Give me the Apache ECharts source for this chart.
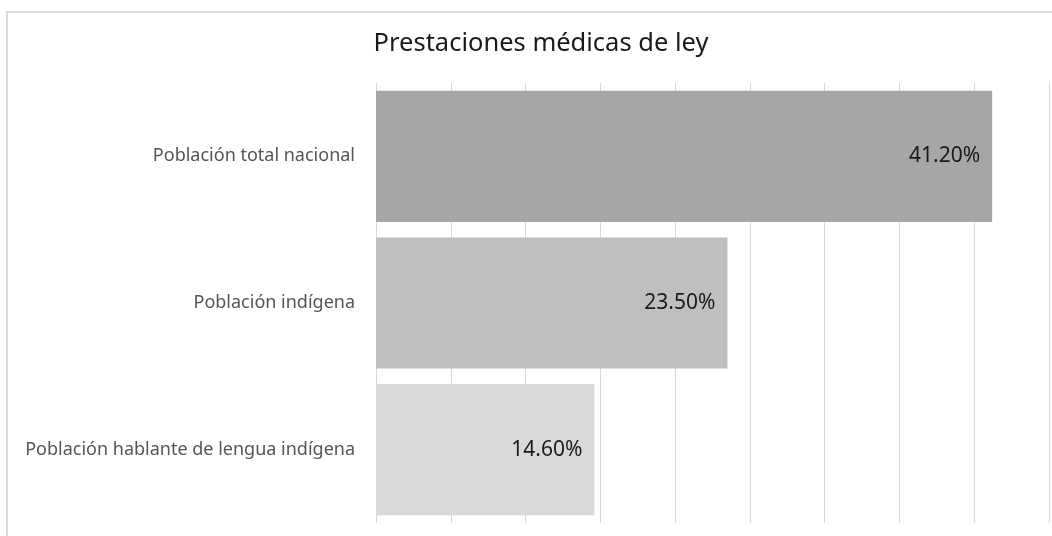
<!DOCTYPE html>
<html>
<head>
<meta charset="utf-8">
<script src="https://cdn.jsdelivr.net/npm/echarts@6/dist/echarts.min.js"></script>
<style>
  html, body { margin: 0; padding: 0; background: #fff; }
  #grafico { width: 1052px; height: 536px; }
</style>
</head>
<body>
<div id="grafico"></div>
<script>
// Datos
const categorias = ['Población hablante de lengua indígena', 'Población indígena', 'Población total nacional'];
const valores = [14.6, 23.5, 41.2];
const colores = ['#d9d9d9', '#bfbfbf', '#a6a6a6'];

function crearGrafico(cats, vals) {
    return {
        animation: false,
        textStyle: { fontFamily: 'Noto Sans' },
        title: {
            text: 'Prestaciones médicas de ley',
            left: 536,
            top: 26,
            textAlign: 'center',
            textStyle: { fontSize: 25.5, fontWeight: 'normal', color: '#1a1a1a', fontFamily: 'Noto Sans' }
        },
        graphic: [{
            type: 'rect',
            shape: { x: 7, y: 12, width: 1080, height: 560 },
            style: { fill: 'none', stroke: '#d9d9d9', lineWidth: 2 },
            silent: true
        }],
        grid: { left: 376, right: 3, top: 83, bottom: 13 },
        xAxis: {
            type: 'value',
            min: 0,
            max: 45,
            interval: 5,
            axisLabel: { show: false },
            axisTick: { show: false },
            axisLine: { show: false },
            splitLine: { lineStyle: { color: '#d9d9d9', width: 1 } }
        },
        yAxis: {
            type: 'category',
            data: cats,
            axisTick: { show: false },
            axisLine: { show: false },
            axisLabel: { color: '#555', fontSize: 18, margin: 21 }
        },
        series: [{
            type: 'bar',
            barCategoryGap: '10.6%',
            data: vals.map((v, i) => ({ value: v, itemStyle: { color: colores[i] } })),
            label: {
                show: true,
                position: 'insideRight',
                distance: 12,
                color: '#1a1a1a',
                fontSize: 21,
                formatter: p => p.value.toFixed(2) + '%'
            }
        }]
    };
}

const chart = echarts.init(document.getElementById('grafico'));
chart.setOption(crearGrafico(categorias, valores));
</script>
</body>
</html>
